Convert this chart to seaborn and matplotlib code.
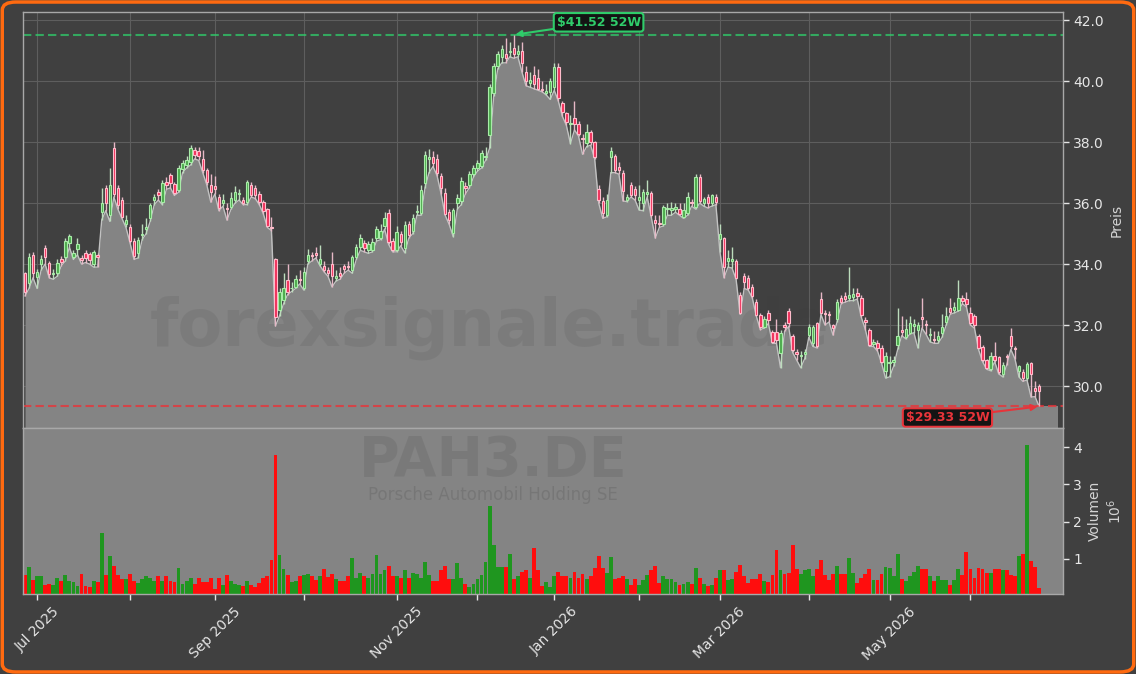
import numpy as np
import pandas as pd
import matplotlib
matplotlib.use("Agg")
import matplotlib.pyplot as plt
import seaborn as sns
from matplotlib.patches import FancyBboxPatch
from matplotlib.ticker import MultipleLocator, FormatStrFormatter

# PAH3.DE daily candles, 26 Jun 2025 - 24 Jun 2026
opens = [
    33.70, 33.38, 34.30, 33.57, 34.00, 34.52, 34.03, 33.68, 33.70, 34.16, 34.23, 34.69,
    34.23, 34.50, 34.20, 34.36, 34.33, 34.00, 34.30, 35.70, 36.50, 35.60, 37.80, 36.50,
    36.10, 35.30, 35.20, 34.75, 34.36, 34.95, 35.15, 35.50, 36.10, 36.36, 36.03, 36.69,
    36.92, 36.62, 36.43, 37.11, 37.25, 37.34, 37.74, 37.70, 37.45, 37.08, 36.60, 36.55,
    36.20, 36.00, 35.85, 35.87, 36.10, 36.30, 36.10, 36.03, 36.60, 36.50, 36.30, 36.03,
    35.80, 35.20, 34.16, 32.49, 32.82, 33.47, 33.20, 33.25, 33.52, 33.20, 34.10, 34.30,
    34.36, 34.00, 33.95, 33.80, 34.00, 33.55, 33.70, 33.95, 33.95, 33.80, 34.23, 34.56,
    34.70, 34.45, 34.46, 34.85, 34.85, 35.25, 35.67, 34.75, 34.46, 35.00, 34.52, 35.30,
    35.08, 35.70, 35.67, 36.66, 37.45, 37.50, 37.44, 36.90, 36.33, 35.70, 35.02, 36.00,
    36.07, 36.55, 36.60, 36.95, 37.15, 37.21, 37.50, 38.23, 39.60, 40.50, 40.79, 40.90,
    40.95, 41.08, 40.90, 41.00, 40.30, 39.95, 40.20, 40.10, 39.75, 39.60, 39.65, 39.80,
    40.46, 39.28, 38.95, 38.58, 38.80, 38.60, 38.15, 37.97, 38.33, 38.00, 36.46, 36.07,
    35.60, 37.50, 37.54, 37.20, 37.00, 36.10, 36.60, 36.45, 36.10, 36.00, 36.30, 36.33,
    35.45, 35.35, 35.30, 35.80, 35.78, 35.80, 35.80, 35.55, 35.67, 36.05, 35.87, 36.85,
    36.00, 36.20, 36.00, 36.20, 34.82, 34.85, 34.10, 34.10, 34.10, 33.00, 33.60, 33.55,
    33.25, 32.75, 32.33, 31.95, 32.40, 31.77, 31.77, 31.08, 32.00, 32.46, 31.64, 31.12,
    30.98, 31.05, 31.67, 31.40, 32.06, 32.85, 32.40, 32.35, 32.00, 32.20, 32.90, 32.95,
    32.90, 32.92, 33.05, 32.90, 32.15, 31.83, 31.38, 31.40, 31.25, 30.50, 30.75, 30.78,
    31.34, 31.85, 31.60, 31.74, 31.96, 31.84, 32.25, 32.05, 31.67, 31.55, 31.50, 31.75,
    32.10, 32.56, 32.50, 32.50, 32.90, 32.85, 32.40, 32.30, 31.64, 31.28, 30.85, 30.56,
    31.00, 30.95, 30.40, 31.00, 31.64, 31.25, 30.50, 30.46, 30.26, 30.75, 29.95, 30.00,
]
highs = [
    33.75, 34.36, 34.40, 33.85, 34.30, 34.62, 34.10, 33.85, 34.15, 34.25, 34.85, 35.00,
    34.45, 34.85, 34.30, 34.45, 34.40, 34.45, 34.35, 36.50, 36.60, 37.15, 38.00, 36.60,
    36.20, 35.60, 35.30, 34.85, 34.90, 35.30, 35.50, 36.00, 36.30, 36.45, 36.75, 36.85,
    37.00, 36.70, 37.25, 37.40, 37.55, 37.90, 37.85, 37.85, 37.75, 37.15, 36.95, 36.90,
    36.30, 36.30, 36.00, 36.35, 36.55, 36.45, 36.20, 36.75, 36.70, 36.60, 36.40, 36.10,
    35.85, 35.54, 34.20, 33.20, 33.70, 34.00, 33.40, 33.65, 33.80, 33.90, 34.50, 34.40,
    34.55, 34.62, 34.10, 33.90, 34.40, 33.80, 33.90, 34.00, 34.10, 34.30, 34.65, 35.00,
    34.80, 34.75, 34.85, 35.25, 35.30, 35.70, 35.80, 34.85, 35.25, 35.10, 35.40, 35.40,
    35.65, 35.95, 36.60, 37.70, 37.77, 37.70, 37.60, 37.00, 36.50, 35.80, 35.85, 36.30,
    36.85, 36.70, 37.05, 37.25, 37.40, 37.75, 37.85, 39.90, 40.60, 41.00, 41.20, 41.40,
    41.30, 41.52, 41.20, 41.30, 40.50, 40.30, 40.50, 40.40, 40.00, 39.90, 40.10, 40.60,
    40.60, 39.35, 39.00, 38.90, 39.35, 38.70, 38.25, 38.60, 38.40, 38.05, 36.60, 36.20,
    36.30, 37.85, 37.60, 37.35, 37.10, 36.30, 36.70, 36.55, 36.60, 36.45, 36.75, 36.40,
    35.60, 35.60, 35.95, 36.00, 36.05, 36.00, 36.00, 36.00, 36.35, 36.15, 36.95, 36.95,
    36.20, 36.30, 36.30, 36.30, 35.30, 34.90, 34.45, 34.55, 34.15, 33.10, 33.70, 33.65,
    33.35, 32.85, 32.40, 32.30, 32.50, 31.85, 32.20, 31.85, 32.10, 32.55, 31.70, 31.20,
    31.15, 31.20, 32.05, 32.00, 32.10, 33.08, 32.50, 32.45, 32.05, 32.85, 33.00, 33.10,
    33.90, 33.20, 33.20, 33.00, 32.25, 31.90, 31.55, 31.50, 31.35, 31.10, 31.00, 31.00,
    32.55, 32.30, 32.20, 32.30, 32.20, 32.10, 32.90, 32.15, 31.90, 31.80, 31.80, 32.35,
    32.60, 32.90, 32.75, 33.47, 33.00, 33.10, 32.60, 32.35, 31.70, 31.35, 30.90, 31.10,
    31.44, 31.00, 30.80, 31.05, 31.90, 31.30, 30.70, 30.55, 30.80, 30.80, 30.15, 30.05,
]
lows = [
    32.95, 33.20, 33.55, 33.20, 33.80, 34.00, 33.55, 33.50, 33.60, 33.95, 34.10, 34.55,
    34.15, 34.30, 34.00, 34.05, 34.00, 33.90, 33.90, 35.45, 35.75, 35.40, 36.20, 35.80,
    35.50, 35.20, 34.70, 34.15, 34.20, 34.80, 35.00, 35.40, 35.95, 36.10, 35.95, 36.45,
    36.50, 36.25, 36.35, 37.00, 37.15, 37.25, 37.45, 37.40, 37.00, 36.60, 36.03, 36.30,
    35.75, 35.90, 35.44, 35.80, 36.00, 36.10, 35.95, 35.95, 36.20, 36.15, 35.95, 35.65,
    35.20, 35.10, 31.97, 32.30, 32.70, 33.00, 33.10, 33.20, 33.35, 33.15, 34.00, 34.10,
    34.20, 33.95, 33.75, 33.60, 33.25, 33.45, 33.50, 33.70, 33.80, 33.70, 34.15, 34.45,
    34.40, 34.35, 34.40, 34.75, 34.80, 35.15, 34.65, 34.40, 34.40, 34.60, 34.37, 34.85,
    35.00, 35.60, 35.60, 36.50, 37.00, 37.20, 36.90, 36.30, 35.60, 35.30, 34.90, 35.80,
    35.95, 36.30, 36.50, 36.85, 37.05, 37.15, 37.40, 37.80, 39.50, 40.40, 40.60, 40.60,
    40.80, 40.75, 40.80, 40.30, 39.85, 39.80, 39.75, 39.70, 39.65, 39.55, 39.40, 39.70,
    39.35, 38.85, 38.55, 37.95, 38.40, 38.20, 37.60, 37.85, 37.90, 37.45, 36.00, 35.50,
    35.55, 37.00, 37.00, 36.95, 36.07, 36.05, 36.20, 36.10, 35.77, 35.75, 36.20, 35.55,
    34.85, 35.20, 35.25, 35.60, 35.60, 35.70, 35.60, 35.50, 35.60, 35.90, 35.80, 36.00,
    35.90, 35.84, 35.90, 35.95, 34.40, 33.55, 33.90, 33.87, 33.50, 32.35, 33.20, 33.15,
    32.90, 32.30, 31.85, 31.90, 32.05, 31.40, 31.40, 30.60, 31.80, 31.95, 31.10, 30.85,
    30.60, 30.90, 31.60, 31.30, 31.25, 32.35, 32.00, 32.10, 31.67, 32.10, 32.70, 32.75,
    32.80, 32.80, 32.85, 32.25, 31.85, 31.30, 31.30, 31.15, 30.75, 30.26, 30.30, 30.65,
    31.20, 31.65, 31.55, 31.70, 31.75, 31.25, 31.90, 31.70, 31.45, 31.40, 31.40, 31.60,
    32.00, 32.35, 32.40, 32.45, 32.70, 32.60, 32.00, 31.90, 31.20, 30.80, 30.55, 30.50,
    30.80, 30.40, 30.30, 30.70, 31.20, 30.90, 30.30, 30.15, 30.20, 29.64, 29.65, 29.33,
]
closes = [
    33.08, 34.23, 33.70, 33.74, 34.16, 34.23, 33.67, 33.72, 34.03, 34.07, 34.75, 34.92,
    34.36, 34.66, 34.13, 34.20, 34.13, 34.39, 34.23, 36.00, 36.00, 36.60, 36.30, 35.95,
    35.55, 35.45, 34.75, 34.25, 34.79, 35.00, 35.20, 35.93, 36.20, 36.26, 36.66, 36.60,
    36.66, 36.33, 37.15, 37.31, 37.40, 37.80, 37.57, 37.55, 37.10, 36.69, 36.36, 36.45,
    35.84, 36.10, 35.80, 36.16, 36.36, 36.32, 36.00, 36.69, 36.26, 36.26, 36.03, 35.74,
    35.25, 35.18, 32.26, 33.08, 33.20, 33.08, 33.22, 33.50, 33.48, 33.74, 34.30, 34.25,
    34.30, 34.15, 33.80, 33.70, 33.60, 33.60, 33.62, 33.85, 33.90, 34.23, 34.56, 34.85,
    34.52, 34.65, 34.72, 35.15, 35.10, 35.50, 34.72, 34.46, 35.05, 34.72, 35.28, 34.95,
    35.50, 35.75, 36.43, 37.57, 37.50, 37.30, 37.00, 36.50, 35.64, 35.44, 35.77, 36.16,
    36.72, 36.50, 36.95, 37.15, 37.31, 37.64, 37.55, 39.80, 40.50, 40.90, 41.05, 40.75,
    41.00, 40.88, 41.00, 40.60, 40.00, 40.05, 39.90, 39.75, 39.70, 39.68, 40.00, 40.46,
    39.44, 38.98, 38.66, 38.62, 38.60, 38.26, 38.10, 38.33, 38.00, 37.50, 36.10, 35.67,
    36.10, 37.70, 37.08, 37.10, 36.40, 36.20, 36.25, 36.25, 36.20, 36.35, 36.35, 35.60,
    35.35, 35.30, 35.87, 35.85, 35.85, 35.88, 35.65, 35.77, 36.20, 36.00, 36.85, 36.07,
    36.15, 36.00, 36.25, 36.05, 34.98, 33.90, 34.20, 34.15, 33.55, 32.40, 33.40, 33.20,
    32.95, 32.33, 31.93, 32.20, 32.16, 31.44, 31.50, 31.74, 31.93, 32.06, 31.18, 31.05,
    31.02, 31.10, 31.93, 31.93, 31.30, 32.40, 32.35, 32.33, 31.90, 32.75, 32.75, 32.85,
    33.00, 33.02, 32.95, 32.33, 32.10, 31.34, 31.45, 31.25, 30.80, 31.00, 30.80, 30.85,
    31.64, 31.78, 31.87, 32.06, 32.04, 32.00, 32.20, 32.00, 31.70, 31.50, 31.65, 31.95,
    32.30, 32.43, 32.60, 32.90, 32.80, 32.70, 32.06, 32.00, 31.25, 30.85, 30.60, 31.00,
    30.85, 30.46, 30.70, 30.95, 31.30, 31.20, 30.65, 30.26, 30.72, 30.40, 29.85, 29.84,
]
# volume in millions of shares
volume_m = [
    0.57, 0.79, 0.44, 0.53, 0.54, 0.30, 0.33, 0.30, 0.48, 0.42, 0.57, 0.42,
    0.37, 0.28, 0.60, 0.28, 0.24, 0.42, 0.38, 1.70, 0.57, 1.08, 0.81, 0.57,
    0.46, 0.46, 0.60, 0.41, 0.35, 0.46, 0.53, 0.48, 0.42, 0.54, 0.42, 0.54,
    0.42, 0.38, 0.77, 0.33, 0.42, 0.49, 0.33, 0.50, 0.39, 0.37, 0.50, 0.20,
    0.50, 0.30, 0.57, 0.42, 0.33, 0.30, 0.28, 0.42, 0.30, 0.26, 0.35, 0.48,
    0.53, 0.96, 3.79, 1.11, 0.73, 0.57, 0.37, 0.42, 0.54, 0.57, 0.59, 0.53,
    0.44, 0.53, 0.73, 0.51, 0.60, 0.46, 0.42, 0.42, 0.54, 1.02, 0.48, 0.63,
    0.53, 0.48, 0.59, 1.11, 0.60, 0.71, 0.81, 0.53, 0.55, 0.48, 0.71, 0.48,
    0.63, 0.60, 0.48, 0.93, 0.57, 0.42, 0.42, 0.71, 0.81, 0.46, 0.46, 0.90,
    0.48, 0.33, 0.24, 0.33, 0.46, 0.57, 0.93, 2.42, 1.37, 0.79, 0.78, 0.79,
    1.13, 0.46, 0.53, 0.66, 0.69, 0.48, 1.29, 0.69, 0.28, 0.39, 0.24, 0.54,
    0.66, 0.54, 0.53, 0.48, 0.66, 0.48, 0.60, 0.46, 0.53, 0.75, 1.08, 0.75,
    0.62, 1.04, 0.46, 0.48, 0.53, 0.46, 0.30, 0.46, 0.30, 0.44, 0.57, 0.71,
    0.81, 0.35, 0.53, 0.46, 0.46, 0.39, 0.30, 0.33, 0.37, 0.33, 0.75, 0.48,
    0.33, 0.28, 0.30, 0.48, 0.71, 0.71, 0.44, 0.46, 0.66, 0.84, 0.54, 0.35,
    0.46, 0.46, 0.60, 0.41, 0.38, 0.57, 1.24, 0.71, 0.60, 0.63, 1.38, 0.73,
    0.59, 0.69, 0.72, 0.54, 0.72, 0.96, 0.57, 0.44, 0.59, 0.81, 0.59, 0.59,
    1.02, 0.63, 0.35, 0.48, 0.59, 0.73, 0.44, 0.44, 0.59, 0.78, 0.75, 0.54,
    1.13, 0.46, 0.41, 0.54, 0.66, 0.81, 0.72, 0.72, 0.53, 0.41, 0.53, 0.44,
    0.44, 0.30, 0.44, 0.72, 0.57, 1.19, 0.72, 0.50, 0.75, 0.72, 0.62, 0.62,
    0.72, 0.73, 0.71, 0.69, 0.57, 0.53, 1.08, 1.13, 4.05, 0.95, 0.78, 0.21,
]

# XETRA trading days
holidays = ["2025-12-24", "2025-12-25", "2025-12-26", "2025-12-31",
            "2026-01-01", "2026-04-03", "2026-04-06", "2026-05-01"]
dates = pd.bdate_range("2025-06-26", "2026-06-24", freq="C", holidays=holidays)

month_labels = ["Jul 2025", "", "Sep 2025", "", "Nov 2025", "", "Jan 2026", "",
                "Mar 2026", "", "May 2026", ""]

ticker = "PAH3.DE"
company = "Porsche Automobil Holding SE"
watermark = "forexsignale.trade"

df = pd.DataFrame({"open": opens, "high": highs, "low": lows,
                   "close": closes, "vol": volume_m})
n = len(df)
df["idx"] = np.arange(n)
df["dir"] = np.where(df["close"] >= df["open"], "up", "down")

# first trading day of each month -> tick positions
pos = pd.Series(np.arange(len(dates)), index=dates)
month_pos = pos.groupby(pos.index.to_period("M")).first().values[1:]

hi_52 = df["high"].max()
lo_52 = df["low"].min()
i_hi = int(df["high"].idxmax())
i_lo = int(df["low"].idxmin())

# colours
bg = "#404040"
fill_col = "#848484"
txt_col = "#e6e6e6"
green = "#2fcc6a"
red = "#e8343a"

sns.set_theme(style="dark")
plt.rcParams["font.family"] = ["DejaVu Sans"]

fig = plt.figure(figsize=(11.36, 6.74), dpi=100)
fig.patch.set_facecolor(bg)

ax_p = fig.add_axes([0.0202, 0.365, 0.9155, 0.617])
ax_v = fig.add_axes([0.0202, 0.1187, 0.9155, 0.2463], sharex=ax_p)

# ---- price panel
ax_p.set_facecolor(bg)
ax_p.set_axisbelow(True)
ax_p.grid(True, color="#5e5e5e", lw=0.8)

ymin = lo_52 - 0.058 * (hi_52 - lo_52)
ymax = hi_52 + 0.061 * (hi_52 - lo_52)

ax_p.fill_between(df["idx"], df["low"], ymin - 5, color=fill_col, lw=0, zorder=1)
ax_p.fill_between([n - 1, n + 3.6], df["low"].iloc[-1], ymin - 5, color=fill_col, lw=0, zorder=1)
sns.lineplot(x=df["idx"], y=df["low"], ax=ax_p, color="#c2c2c2", lw=1.0, zorder=2)

ax_p.text(0.449, 0.24, watermark, transform=ax_p.transAxes, ha="center", va="center",
          fontsize=47, fontweight="bold", color="#3a3a3a", alpha=0.11, zorder=1.5)

# candles
up = df[df["dir"] == "up"]
dn = df[df["dir"] == "down"]
ax_p.vlines(up["idx"], up["low"], up["high"], color="#bcdcbc", lw=1, zorder=3)
ax_p.vlines(dn["idx"], dn["low"], dn["high"], color="#e6b8c6", lw=1, zorder=3)
ax_p.bar(up["idx"], (up["close"] - up["open"]).clip(lower=0.02), bottom=up["open"],
         width=0.6, color="#4caa4c", edgecolor="#a8eca8", lw=0.8, zorder=4)
ax_p.bar(dn["idx"], (dn["open"] - dn["close"]).clip(lower=0.02), bottom=dn["close"],
         width=0.6, color="#f0305a", edgecolor="#ffbccb", lw=0.8, zorder=4)

# 52 week high / low
ax_p.axhline(hi_52, color=green, lw=1.5, ls=(0, (4, 2)), alpha=0.75, zorder=2.5)
ax_p.axhline(lo_52, color=red, lw=1.5, ls=(0, (4, 2)), alpha=0.8, zorder=2.5)
ax_p.annotate(f"\\${hi_52:.2f} 52W", xy=(i_hi, hi_52), xytext=(61, 9),
              textcoords="offset points", ha="center", va="center",
              fontsize=9, fontweight="bold", color=green,
              bbox=dict(boxstyle="round,pad=0.22", fc="#141414", ec=green, lw=1.5),
              arrowprops=dict(arrowstyle="-|>", color=green, lw=1.5, shrinkA=0, shrinkB=1),
              zorder=6)
ax_p.annotate(f"\\${lo_52:.2f} 52W", xy=(i_lo, lo_52), xytext=(-66, -8),
              textcoords="offset points", ha="center", va="center",
              fontsize=9, fontweight="bold", color=red,
              bbox=dict(boxstyle="round,pad=0.22", fc="#141414", ec=red, lw=1.5),
              arrowprops=dict(arrowstyle="-|>", color=red, lw=1.5, shrinkA=0, shrinkB=1),
              zorder=6)

ax_p.set_ylim(ymin, ymax)
ax_p.yaxis.set_major_locator(MultipleLocator(2))
ax_p.yaxis.set_major_formatter(FormatStrFormatter("%.1f"))
ax_p.yaxis.tick_right()
ax_p.yaxis.set_label_position("right")
ax_p.set_ylabel("Preis", color="#d4d4d4", fontsize=10)
ax_p.tick_params(axis="y", colors=txt_col, labelsize=10, length=4, width=1, right=True)
ax_p.tick_params(axis="x", bottom=False, labelbottom=False)
ax_p.set_xlabel("")

# ---- volume panel
ax_v.set_facecolor(fill_col)
sns.barplot(x=df["idx"], y=df["vol"], hue=df["dir"], hue_order=["up", "down"],
            palette={"up": "#1f961f", "down": "#ff0d0d"}, dodge=False, width=0.95,
            saturation=1, linewidth=0, errorbar=None, legend=False, ax=ax_v, zorder=2)
ax_v.text(0.452, 0.80, ticker, transform=ax_v.transAxes, ha="center", va="center",
          fontsize=40, fontweight="bold", color="#555555", alpha=0.22, zorder=1)
ax_v.text(0.452, 0.595, company, transform=ax_v.transAxes, ha="center", va="center",
          fontsize=12, color="#555555", alpha=0.28, zorder=1)

ax_v.set_ylim(0.06, 4.51)
ax_v.set_yticks([1, 2, 3, 4])
ax_v.set_yticklabels(["1", "2", "3", "4"])
ax_v.yaxis.tick_right()
ax_v.yaxis.set_label_position("right")
ax_v.set_ylabel("Volumen\n$10^{6}$", color="#d4d4d4", fontsize=10)
ax_v.tick_params(axis="y", colors=txt_col, labelsize=10, length=4, width=1, right=True)
ax_v.grid(False)

ax_v.set_xticks(month_pos)
ax_v.set_xticklabels(month_labels, rotation=45, ha="center")
ax_v.tick_params(axis="x", colors=txt_col, labelsize=10, length=4, width=1, bottom=True)
ax_v.set_xlabel("")
ax_v.set_xlim(-0.5, 256.9)

for ax in (ax_p, ax_v):
    for sp in ax.spines.values():
        sp.set_color("#a8a8a8")
        sp.set_linewidth(1)
        sp.set_visible(True)

# rounded orange frame
frame = FancyBboxPatch((0.002, 0.003), 0.996, 0.994, boxstyle="round,pad=0,rounding_size=0.012",
                       transform=fig.transFigure, fill=False, ec="#ff6a10", lw=2.5)
fig.add_artist(frame)

fig.savefig("out.png", dpi=100, facecolor=fig.get_facecolor())
